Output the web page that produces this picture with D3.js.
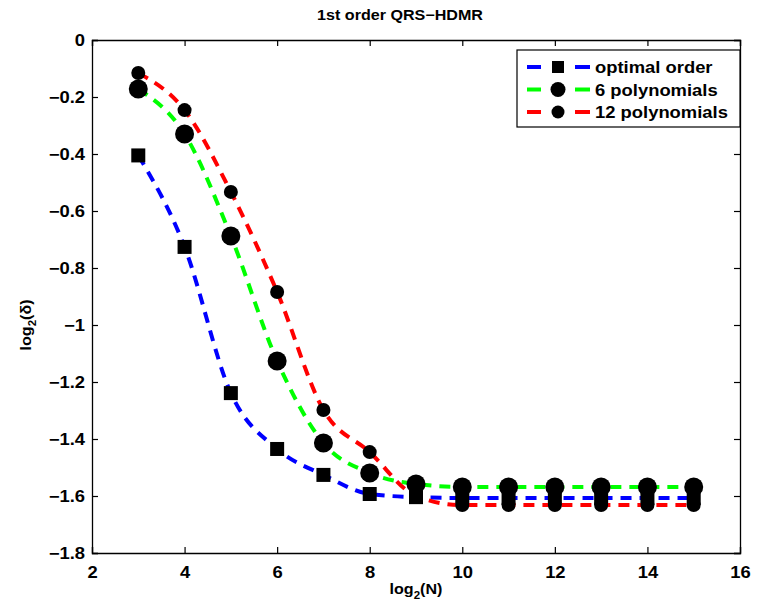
<!DOCTYPE html>
<html>
<head>
<meta charset="utf-8">
<script src="https://cdn.jsdelivr.net/npm/d3@7"></script>
<style>
  html, body { margin: 0; padding: 0; background: #fff; overflow: hidden; }
  svg { display: block; }
  text { font-family: "Liberation Sans", Arial, sans-serif; font-weight: bold; fill: #000; }
</style>
</head>
<body>
<svg id="chart" width="757" height="610"></svg>
<script>
const logN = [3, 4, 5, 6, 7, 8, 9, 10, 11, 12, 13, 14, 15];
const optimalOrder = [-0.405, -0.726, -1.239, -1.435, -1.526, -1.593, -1.604, -1.607, -1.607, -1.607, -1.607, -1.607, -1.607];
const poly6 = [-0.172, -0.330, -0.688, -1.126, -1.414, -1.519, -1.558, -1.568, -1.568, -1.568, -1.568, -1.568, -1.568];
const poly12 = [-0.116, -0.246, -0.533, -0.884, -1.298, -1.446, -1.600, -1.632, -1.632, -1.632, -1.632, -1.632, -1.632];
const xTicks = [2, 4, 6, 8, 10, 12, 14, 16];
const yTicks = [0, -0.2, -0.4, -0.6, -0.8, -1, -1.2, -1.4, -1.6, -1.8];

const series = [
  { name: "optimal order", values: optimalOrder, color: "#0000ff", marker: "square" },
  { name: "6 polynomials", values: poly6, color: "#00ff00", marker: "bigcircle" },
  { name: "12 polynomials", values: poly12, color: "#ff0000", marker: "circle" }
];

const sx = 1.15; // the reference text is a bit wide

const svg = d3.select("#chart");
const margin = { top: 40, right: 17, bottom: 57, left: 92 },
  innerWidth = 757 - margin.left - margin.right,
  innerHeight = 610 - margin.top - margin.bottom;

const g = svg.append("g").attr("transform", `translate(${margin.left},${margin.top})`);

const x = d3.scaleLinear().domain([2, 16]).range([0, innerWidth]);
const y = d3.scaleLinear().domain([-1.8, 0]).range([innerHeight, 0]);

const fmt = d => d === 0 ? "0" : String(d).replace("-", "\u2212");

// axes: box with inward ticks on all four sides
const xAxis = g.append("g")
  .attr("transform", `translate(0,${innerHeight})`)
  .call(d3.axisBottom(x).tickValues(xTicks).tickSize(-6).tickPadding(14).tickFormat(fmt));
g.append("g")
  .call(d3.axisTop(x).tickValues(xTicks).tickSize(-6))
  .selectAll("text").remove();
const yAxis = g.append("g")
  .call(d3.axisLeft(y).tickValues(yTicks).tickSize(-6).tickPadding(7).tickFormat(fmt));
g.append("g")
  .attr("transform", `translate(${innerWidth},0)`)
  .call(d3.axisRight(y).tickValues(yTicks).tickSize(-6))
  .selectAll("text").remove();

g.selectAll(".domain").attr("stroke", "#000").attr("stroke-width", 1.3);
g.selectAll(".tick line").attr("stroke", "#000").attr("stroke-width", 1.2);
g.selectAll(".tick text").attr("font-size", 16)
  .attr("font-family", null).attr("fill", "#000");
xAxis.selectAll(".tick text").attr("transform", `scale(${sx},1)`);
yAxis.selectAll(".tick text").attr("x", -7 / sx).attr("transform", `scale(${sx},1)`);

// title and axis labels
svg.append("text").attr("transform", `translate(400,20) scale(${sx},1)`)
  .attr("text-anchor", "middle").attr("font-size", 14).text("1st order QRS\u2212HDMR");

const xl = svg.append("text")
  .attr("transform", `translate(${margin.left + innerWidth / 2},594) scale(${sx},1)`)
  .attr("text-anchor", "middle").attr("font-size", 14);
xl.append("tspan").text("log");
xl.append("tspan").attr("dy", 5).attr("font-size", 10).text("2");
xl.append("tspan").attr("dy", -5).text("(N)");

const yl = svg.append("text")
  .attr("transform", `translate(31,${margin.top + 285}) rotate(-90) scale(${sx},1)`)
  .attr("text-anchor", "middle").attr("font-size", 14);
yl.append("tspan").text("log");
yl.append("tspan").attr("dy", 5).attr("font-size", 10).text("2");
yl.append("tspan").attr("dy", -5).text("(\u03b4)");

const line = d3.line().curve(d3.curveMonotoneX)
  .x((d, i) => x(logN[i])).y(d => y(d));

function drawMarker(sel, type, big) {
  if (type === "square") {
    const s = big ? 14 : 12;
    sel.append("rect").attr("x", -s / 2).attr("y", -s / 2).attr("width", s).attr("height", s).attr("fill", "#000");
  } else if (type === "bigcircle") {
    sel.append("circle").attr("r", big ? 9.5 : 7.5).attr("fill", "#000");
  } else {
    sel.append("circle").attr("r", big ? 7 : 6.5).attr("fill", "#000");
  }
}

series.forEach(s => {
  g.append("path").datum(s.values)
    .attr("fill", "none").attr("stroke", s.color).attr("stroke-width", 4)
    .attr("stroke-dasharray", "11,8").attr("d", line);
  g.selectAll(null).data(s.values).enter().append("g")
    .attr("transform", (d, i) => `translate(${x(logN[i])},${y(d)})`)
    .each(function () { drawMarker(d3.select(this), s.marker, true); });
});

// legend
const lg = svg.append("g").attr("transform", "translate(517,50)");
lg.append("rect").attr("width", 223).attr("height", 77).attr("fill", "#fff")
  .attr("stroke", "#000").attr("stroke-width", 1.2);
series.forEach((s, i) => {
  const row = lg.append("g").attr("transform", `translate(0,${17 + i * 22.5})`);
  row.append("line").attr("x1", 10).attr("x2", 24).attr("stroke", s.color).attr("stroke-width", 4);
  row.append("line").attr("x1", 58).attr("x2", 73).attr("stroke", s.color).attr("stroke-width", 4);
  drawMarker(row.append("g").attr("transform", "translate(41,0)"), s.marker, false);
  row.append("text").attr("transform", `translate(78,6) scale(${sx},1)`)
    .attr("font-size", 16).text(s.name);
});
</script>
</body>
</html>
